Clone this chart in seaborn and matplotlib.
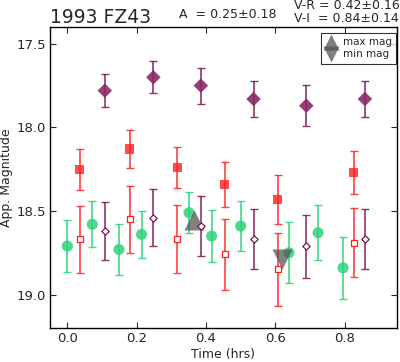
import matplotlib
matplotlib.use("Agg")
from matplotlib import pyplot as plt
import seaborn as sns
import pandas as pd

# light curve points
t_diamond = [0.108, 0.248, 0.385, 0.537, 0.689, 0.858]
mag_diamond = [17.78, 17.70, 17.75, 17.83, 17.87, 17.83]
err_diamond = [0.10, 0.095, 0.108, 0.11, 0.124, 0.11]
mag_diamond_open = [18.62, 18.54, 18.59, 18.67, 18.71, 18.67]
err_diamond_open = [0.172, 0.17, 0.18, 0.179, 0.188, 0.179]

t_square = [0.036, 0.180, 0.317, 0.454, 0.606, 0.826]
mag_square = [18.25, 18.13, 18.24, 18.34, 18.43, 18.27]
err_square = [0.122, 0.112, 0.121, 0.135, 0.147, 0.127]
mag_square_open = [18.67, 18.55, 18.67, 18.76, 18.85, 18.69]
err_square_open = [0.202, 0.199, 0.204, 0.211, 0.219, 0.205]

t_circle = [0.0, 0.072, 0.149, 0.214, 0.351, 0.416, 0.500, 0.639, 0.723, 0.795]
mag_circle = [18.71, 18.58, 18.73, 18.64, 18.51, 18.65, 18.59, 18.75, 18.63, 18.84]
err_circle = [0.157, 0.137, 0.153, 0.14, 0.123, 0.153, 0.151, 0.183, 0.166, 0.184]

t_max, mag_max = [0.365], [18.554]
t_min, mag_min = [0.620], [18.79]

sns.set_style("ticks", {"xtick.direction": "in", "ytick.direction": "in"})
plt.rcParams.update({"font.size": 9})

fig = plt.figure(figsize=(4.0, 3.62), dpi=100)
ax = fig.add_axes([0.125, 0.094, 0.867, 0.831])

purple = "#7a1450"
red = "#ff2020"
green = "#2ed47a"

# error bars
ax.errorbar(t_diamond, mag_diamond, yerr=err_diamond, fmt="none", ecolor=purple, capsize=3, alpha=0.85, lw=1.2)
ax.errorbar(t_diamond, mag_diamond_open, yerr=err_diamond_open, fmt="none", ecolor=purple, capsize=3, alpha=0.85, lw=1.2)
ax.errorbar(t_square, mag_square, yerr=err_square, fmt="none", ecolor=red, capsize=3, alpha=0.85, lw=1.2)
ax.errorbar(t_square, mag_square_open, yerr=err_square_open, fmt="none", ecolor=red, capsize=3, alpha=0.85, lw=1.2)
ax.errorbar(t_circle, mag_circle, yerr=err_circle, fmt="none", ecolor=green, capsize=3, alpha=0.9, lw=1.2)

# markers
df_c = pd.DataFrame({"t": t_circle, "mag": mag_circle})
sns.scatterplot(data=df_c, x="t", y="mag", ax=ax, marker="o", s=64, color=green, alpha=0.85, edgecolor="none", zorder=3)
df_d = pd.DataFrame({"t": t_diamond, "mag": mag_diamond})
sns.scatterplot(data=df_d, x="t", y="mag", ax=ax, marker="D", s=55, color="#8a2a68", alpha=0.9, edgecolor="none", zorder=3)
df_s = pd.DataFrame({"t": t_square, "mag": mag_square})
sns.scatterplot(data=df_s, x="t", y="mag", ax=ax, marker="s", s=45, color=red, alpha=0.8, edgecolor="none", zorder=3)
df_so = pd.DataFrame({"t": t_square, "mag": mag_square_open})
sns.scatterplot(data=df_so, x="t", y="mag", ax=ax, marker="s", s=16, facecolor="white", edgecolor=red, linewidth=0.9, zorder=3)
df_do = pd.DataFrame({"t": t_diamond, "mag": mag_diamond_open})
sns.scatterplot(data=df_do, x="t", y="mag", ax=ax, marker="D", s=14, facecolor="white", edgecolor=purple, linewidth=0.9, zorder=4)

ax.plot(t_max, mag_max, "^", ms=15, color="#555555", alpha=0.75, mec="none", zorder=3, label="max mag")
ax.plot(t_min, mag_min, "v", ms=15, color="#555555", alpha=0.75, mec="none", zorder=3, label="min mag")

ax.set_xlim(-0.05, 0.95)
ax.set_ylim(19.2, 17.4)
ax.set_xticks([0.0, 0.2, 0.4, 0.6, 0.8])
ax.set_yticks([17.5, 18.0, 18.5, 19.0])
ax.tick_params(top=True, right=True, direction="in", length=4, labelsize=9.5, pad=3)
for s in ax.spines.values():
    s.set_linewidth(1.0)
    s.set_color("black")
ax.set_xlabel("Time (hrs)", fontsize=9, labelpad=2)
ax.set_ylabel("App. Magnitude", fontsize=9, labelpad=2)

leg = ax.legend(loc="upper right", bbox_to_anchor=(0.997, 0.98), fontsize=7.5, numpoints=1,
                labelspacing=0.2, handletextpad=0.5, handlelength=1.2, borderpad=0.4,
                fancybox=False, markerscale=0.75, borderaxespad=0.0)
leg.get_frame().set_edgecolor("black")
leg.get_frame().set_linewidth(0.8)

fig.text(0.125, 0.937, "1993 FZ43", fontsize=13.5, ha="left", va="baseline")
fig.text(0.447, 0.951, "A  = 0.25±0.18", fontsize=9, ha="left", va="baseline")
fig.text(0.734, 0.976, "V-R = 0.42±0.16", fontsize=9, ha="left", va="baseline")
fig.text(0.734, 0.940, "V-I  = 0.84±0.14", fontsize=9, ha="left", va="baseline")

fig.savefig("out.png", dpi=100)
